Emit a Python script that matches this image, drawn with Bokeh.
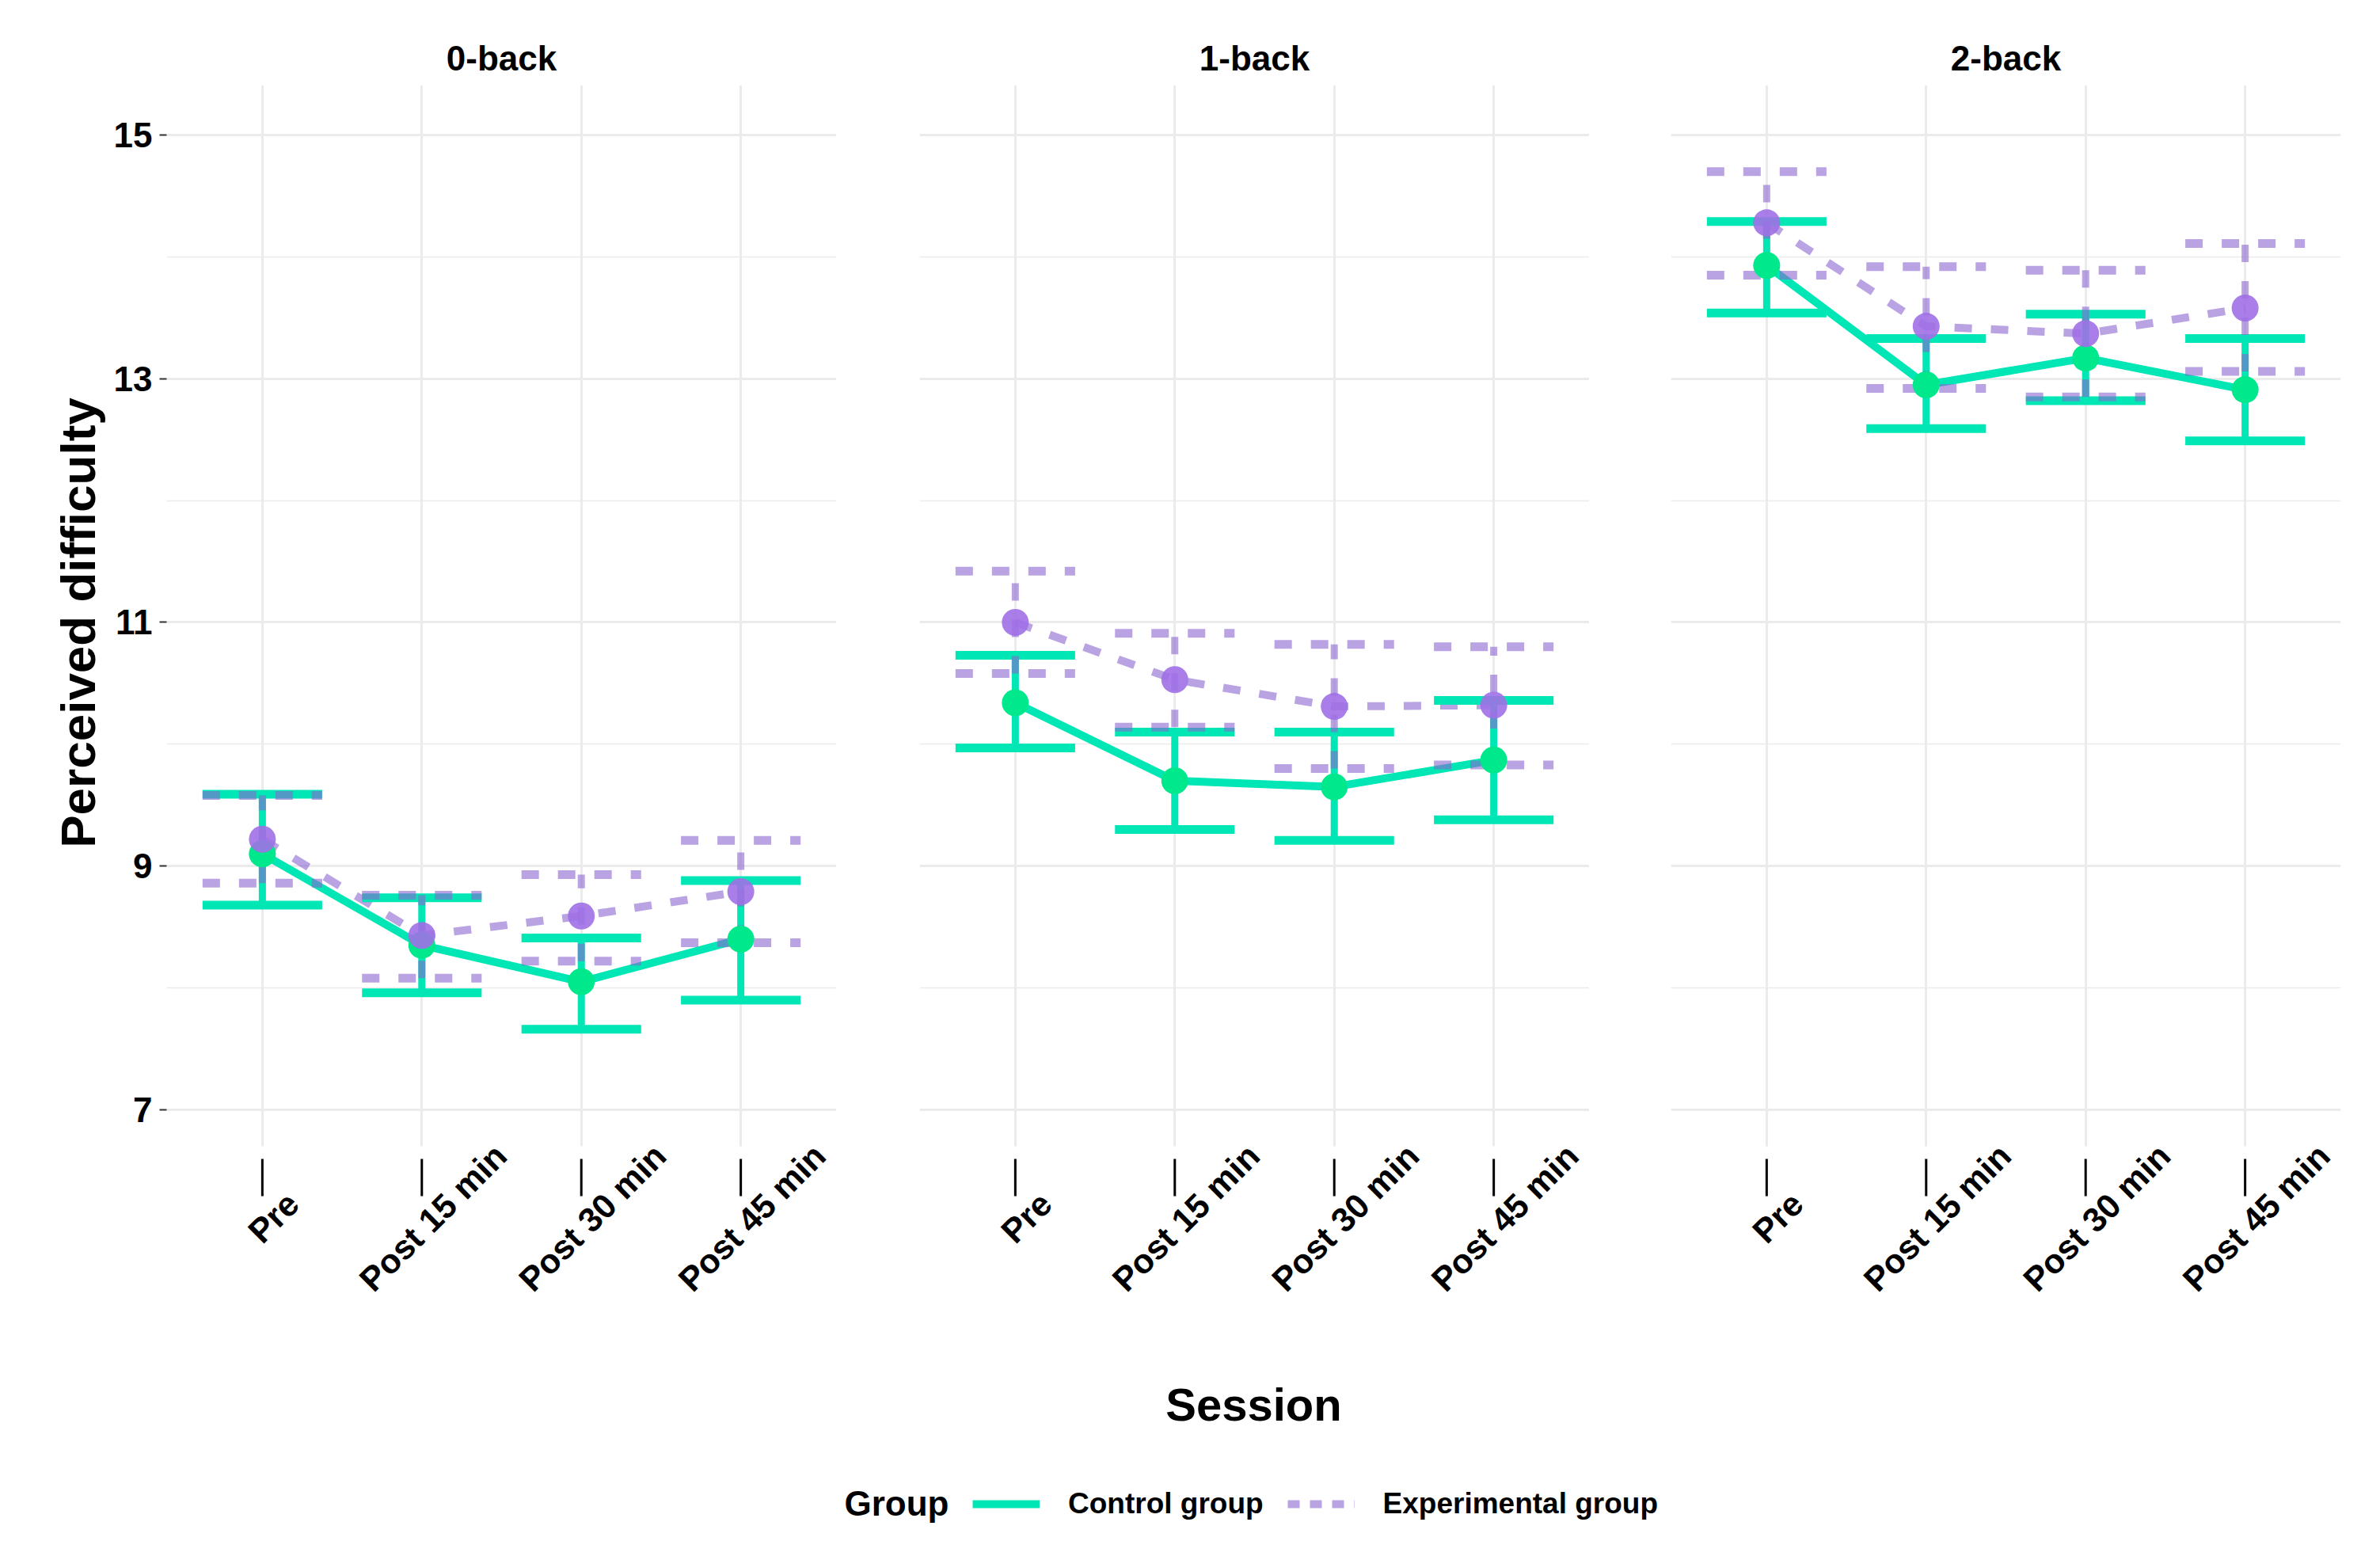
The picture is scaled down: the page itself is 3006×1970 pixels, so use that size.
from bokeh.plotting import figure
from bokeh.models import Range1d, FixedTicker, Label, Legend, LegendItem, ColumnDataSource
from bokeh.layouts import row, column
from bokeh.core.properties import value
from bokeh.embed import file_html
from bokeh.resources import INLINE

# ---------------- data ----------------
sessions = ["Pre", "Post 15 min", "Post 30 min", "Post 45 min"]
tasks = ["0-back", "1-back", "2-back"]
group_names = ["Control group", "Experimental group"]
y_title = "Perceived difficulty"
x_title = "Session"
legend_title = "Group"

ctrl0_mean = [9.10, 8.35, 8.05, 8.40]
ctrl0_hi = [9.59, 8.74, 8.41, 8.88]
ctrl0_lo = [8.68, 7.96, 7.66, 7.90]
expt0_mean = [9.22, 8.43, 8.59, 8.79]
expt0_hi = [9.58, 8.76, 8.93, 9.21]
expt0_lo = [8.86, 8.08, 8.22, 8.37]

ctrl1_mean = [10.34, 9.70, 9.65, 9.87]
ctrl1_hi = [10.73, 10.10, 10.10, 10.36]
ctrl1_lo = [9.97, 9.30, 9.21, 9.38]
expt1_mean = [11.00, 10.53, 10.31, 10.32]
expt1_hi = [11.42, 10.91, 10.82, 10.80]
expt1_lo = [10.58, 10.14, 9.80, 9.83]

ctrl2_mean = [13.93, 12.95, 13.17, 12.91]
ctrl2_hi = [14.29, 13.33, 13.53, 13.33]
ctrl2_lo = [13.54, 12.59, 12.82, 12.49]
expt2_mean = [14.28, 13.43, 13.37, 13.58]
expt2_hi = [14.70, 13.92, 13.89, 14.11]
expt2_lo = [13.85, 12.92, 12.85, 13.06]

y_ticks = [7, 9, 11, 13, 15]
y_minor = [8, 10, 12, 14]

# ---------------- style / layout ----------------
FONT = "Liberation Sans"
GREEN = "#00E6B4"
GREEN_PT = "#00E88C"
PURPLE = "#8A66D0"
PURPLE_PT = "#A070E6"
GRID = "#EBEBEB"
DASH = "22 24"
CAP_HALF = 0.375
Y_LO, Y_HI = 6.70, 15.41          # visible data window of each panel
X_LO, X_HI = 0.4, 4.6
FRAME_W = 846
FRAME_TOP = 107
DATA_H = 1340                     # pixel height of the data window
EXT_H = 253                       # extra frame below it for ticks + session labels
PANEL_H = FRAME_TOP + DATA_H + EXT_H
BOTTOM_H = 254                    # x title + legend
YLAB_W = 138                      # strip holding the y title
YLAB_BASELINE = 98
TICK_GAP, TICK_END = 16, 63
LABEL_DROP, LABEL_SHIFT = 90, 14
PX_PER_UNIT = DATA_H / (Y_HI - Y_LO)
Y_EXT_LO = Y_LO - EXT_H / PX_PER_UNIT

xs = [i + 1 for i in range(len(sessions))]


def make_source(mean, lo, hi):
    return ColumnDataSource(dict(
        x=xs, mean=mean, lo=lo, hi=hi,
        x0=[x - CAP_HALF for x in xs], x1=[x + CAP_HALF for x in xs],
    ))


def make_panel(title, ctrl, expt, left, right, first):
    p = figure(width=left + FRAME_W + right, height=PANEL_H,
               x_range=Range1d(X_LO, X_HI), y_range=Range1d(Y_EXT_LO, Y_HI),
               output_backend="svg", toolbar_location=None,
               x_axis_location=None, y_axis_location="left" if first else None,
               min_border_left=left, min_border_right=right,
               min_border_top=FRAME_TOP, min_border_bottom=0)
    p.outline_line_color = None
    p.background_fill_color = "white"
    p.border_fill_color = "white"

    p.title.text = title
    p.title.align = "center"
    p.title.text_font = FONT
    p.title.text_font_size = "44px"
    p.title.text_font_style = "bold"
    p.title.text_color = "black"
    p.title.standoff = 20

    ss = ColumnDataSource(dict(x=xs, label=sessions))

    # vertical grid lines, limited to the data window
    vgrid_done = False
    try:
        p.xgrid[0].cross_bounds = (Y_LO, Y_HI)
        p.xgrid.ticker = FixedTicker(ticks=xs, minor_ticks=[])
        p.xgrid.grid_line_color = GRID
        p.xgrid.grid_line_width = 3
        vgrid_done = True
    except Exception:
        pass
    if not vgrid_done:
        p.xgrid.visible = False
        p.segment(x0="x", x1="x", y0=Y_LO, y1=Y_HI, source=ss,
                  line_color=GRID, line_width=3)

    p.ygrid.ticker = FixedTicker(ticks=y_ticks, minor_ticks=y_minor)
    p.ygrid.grid_line_color = GRID
    p.ygrid.grid_line_width = 3
    p.ygrid.minor_grid_line_color = GRID
    p.ygrid.minor_grid_line_width = 1.6

    if first:
        ay = p.yaxis[0]
        ay.bounds = (Y_LO, Y_HI)
        ay.ticker = FixedTicker(ticks=y_ticks, minor_ticks=[])
        ay.axis_line_color = None
        ay.major_tick_in = 0
        ay.major_tick_out = 9
        ay.major_tick_line_color = "#333333"
        ay.major_tick_line_width = 2
        ay.minor_tick_line_color = None
        ay.major_label_standoff = 9
        ay.major_label_text_font = FONT
        ay.major_label_text_font_size = "44px"
        ay.major_label_text_font_style = "bold"
        ay.major_label_text_color = "black"

    sc = make_source(*ctrl)
    se = make_source(*expt)

    p.line("x", "mean", source=sc, line_color=GREEN, line_width=10, line_join="round")
    p.line("x", "mean", source=se, line_color=PURPLE, line_alpha=0.6, line_width=10,
           line_dash=DASH)
    for src, col, alpha, dash in ((sc, GREEN, 1.0, "solid"), (se, PURPLE, 0.6, DASH)):
        p.segment(x0="x", y0="lo", x1="x", y1="hi", source=src, line_color=col,
                  line_alpha=alpha, line_width=9, line_dash=dash)
        p.segment(x0="x0", y0="hi", x1="x1", y1="hi", source=src, line_color=col,
                  line_alpha=alpha, line_width=11, line_dash=dash)
        p.segment(x0="x0", y0="lo", x1="x1", y1="lo", source=src, line_color=col,
                  line_alpha=alpha, line_width=11, line_dash=dash)
    p.scatter("x", "mean", source=sc, size=34, fill_color=GREEN_PT, line_color=None)
    p.scatter("x", "mean", source=se, size=34, fill_color=PURPLE_PT, fill_alpha=0.9,
              line_color=None)

    # x tick marks (offset below the data window) and rotated session labels
    p.segment(x0="x", x1="x", y0=Y_LO - TICK_GAP / PX_PER_UNIT,
              y1=Y_LO - TICK_END / PX_PER_UNIT, source=ss,
              line_color="black", line_width=3)
    p.text(x="x", y=Y_LO, text="label", source=ss, x_offset=LABEL_SHIFT,
           y_offset=LABEL_DROP, angle=45, angle_units="deg", text_align="center",
           text_baseline="middle", text_font=value(FONT), text_font_size=value("43px"),
           text_font_style="bold", text_color="black")
    return p


p1 = make_panel(tasks[0], (ctrl0_mean, ctrl0_lo, ctrl0_hi), (expt0_mean, expt0_lo, expt0_hi),
                210 - YLAB_W, 0, True)
p2 = make_panel(tasks[1], (ctrl1_mean, ctrl1_lo, ctrl1_hi), (expt1_mean, expt1_lo, expt1_hi),
                105, 0, False)
p3 = make_panel(tasks[2], (ctrl2_mean, ctrl2_lo, ctrl2_hi), (expt2_mean, expt2_lo, expt2_hi),
                103, 30, False)

# ---------------- y title strip (shares the panels' y scale) ----------------
py = figure(width=YLAB_W, height=PANEL_H, x_range=Range1d(0, YLAB_W), y_range=p1.y_range,
            output_backend="svg", toolbar_location=None,
            x_axis_location=None, y_axis_location=None,
            min_border_left=0, min_border_right=0, min_border_top=FRAME_TOP,
            min_border_bottom=0)
py.outline_line_color = None
py.grid.visible = False
py.text(x=[YLAB_BASELINE], y=[(Y_LO + Y_HI) / 2], text=[y_title], y_offset=9,
        angle=90, angle_units="deg", text_align="center", text_baseline="alphabetic",
        text_font=value(FONT), text_font_size=value("62px"), text_font_style="bold",
        text_color="black")

# ---------------- bottom: x title + legend ----------------
TOTAL_W = YLAB_W + (210 - YLAB_W + FRAME_W) + (105 + FRAME_W) + (103 + FRAME_W + 30)
pb = figure(width=TOTAL_W, height=BOTTOM_H, x_range=Range1d(0, 1), y_range=Range1d(0, 1),
            output_backend="svg", toolbar_location=None,
            x_axis_location=None, y_axis_location=None,
            min_border_left=210, min_border_right=30, min_border_top=0, min_border_bottom=0)
pb.outline_line_color = None
pb.grid.visible = False

pb.add_layout(Label(x=0.5, y=181, y_units="screen", text=x_title, text_align="center",
                    text_baseline="middle", text_font=FONT, text_font_size="58px",
                    text_font_style="bold", text_color="black"))
pb.add_layout(Label(x=856, y=56, x_units="screen", y_units="screen", text=legend_title,
                    text_align="left", text_baseline="middle", text_font=FONT,
                    text_font_size="44px", text_font_style="bold", text_color="black"))

# legend proxies (kept outside the visible y range)
proxy_x = [0, 1]
proxy_y = [-1, -1]
r_c = pb.line(x=proxy_x, y=proxy_y, line_color=GREEN, line_width=10)
r_e = pb.line(x=proxy_x, y=proxy_y, line_color=PURPLE, line_alpha=0.6, line_width=10,
              line_dash="15 13")
legend = Legend(items=[LegendItem(label=group_names[0], renderers=[r_c]),
                       LegendItem(label=group_names[1], renderers=[r_e])],
                orientation="horizontal", location=(1018, 33),
                glyph_width=85, glyph_height=44, label_height=44,
                label_standoff=36, spacing=30, padding=10, margin=0,
                border_line_color=None, background_fill_alpha=0,
                label_text_font=FONT, label_text_font_size="37px",
                label_text_font_style="bold", label_text_color="black")
pb.add_layout(legend, "center")

layout = column(row(py, p1, p2, p3), pb)
open("out.html", "w").write(file_html(layout, INLINE))
